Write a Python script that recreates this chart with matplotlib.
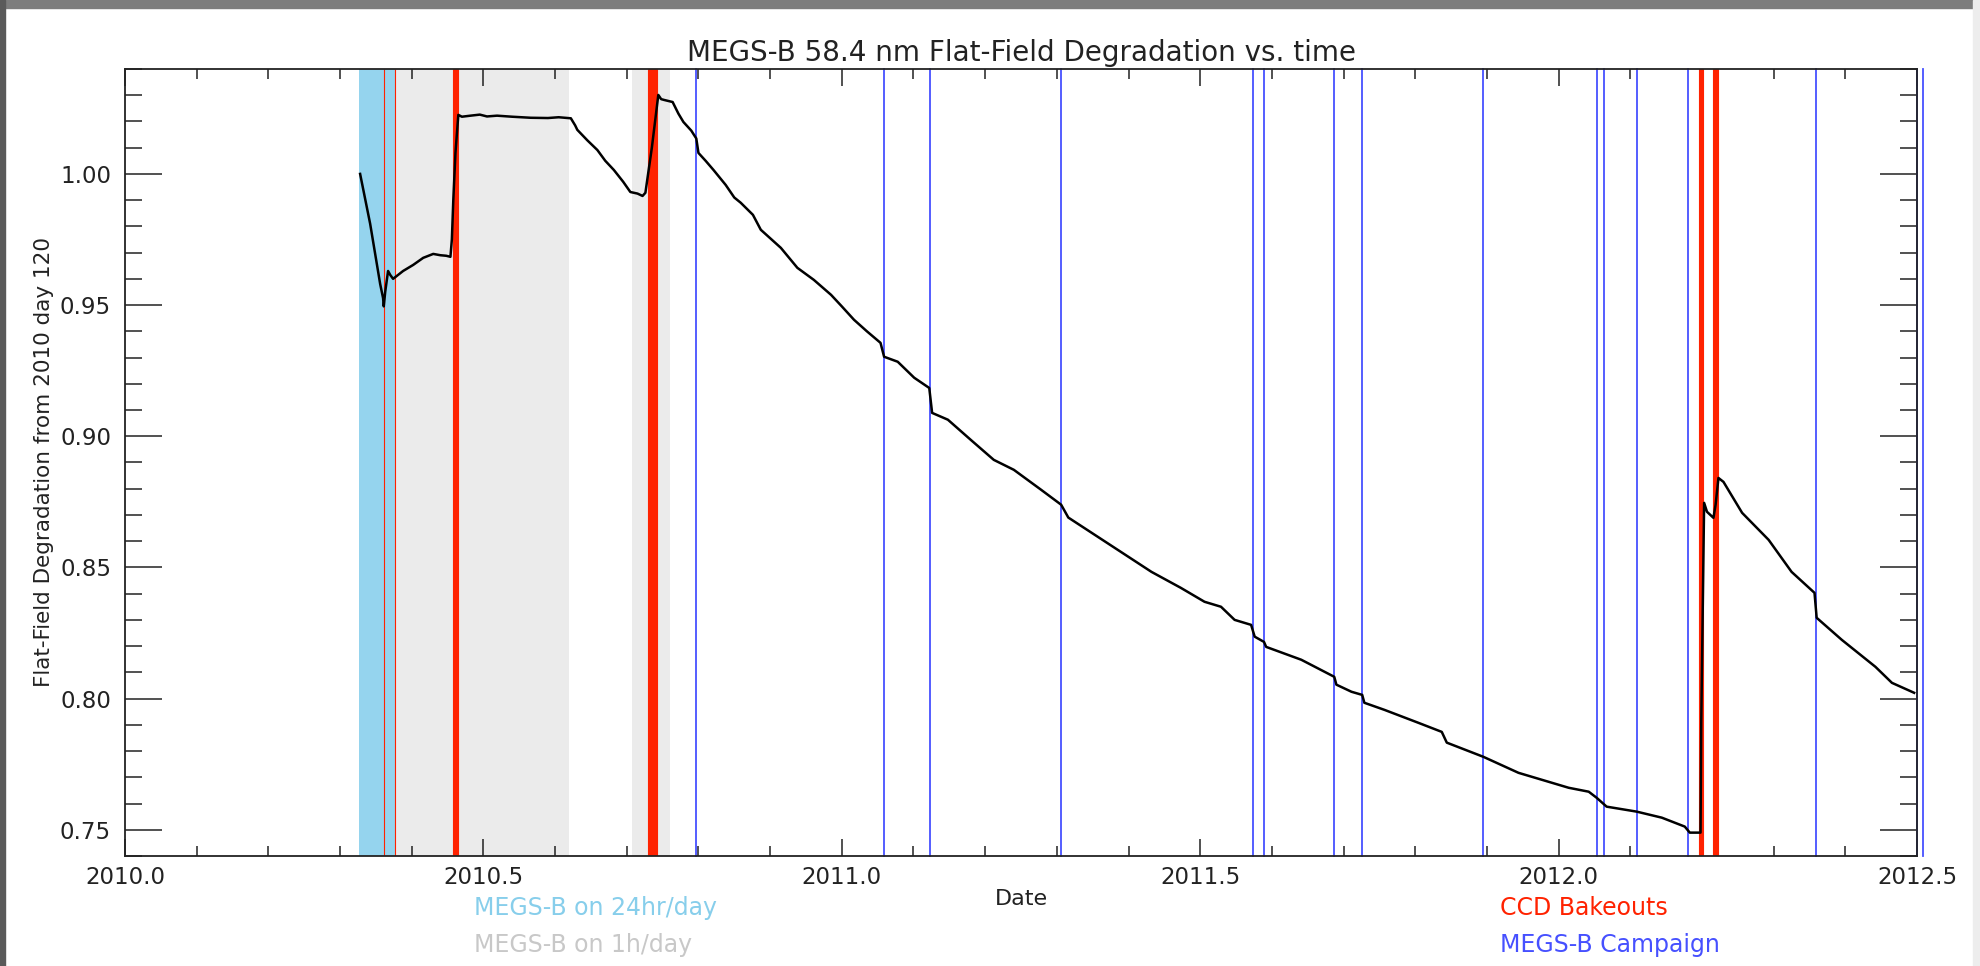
import matplotlib
matplotlib.use('Agg')
import matplotlib.pyplot as plt
from matplotlib.patches import Rectangle
from matplotlib.ticker import MultipleLocator, FormatStrFormatter

# flat-field degradation curve (decimal year, ratio to 2010 day 120)
dates = [2010.328, 2010.342, 2010.356, 2010.360, 2010.361, 2010.363, 2010.367,
         2010.370, 2010.374, 2010.388, 2010.402, 2010.416, 2010.430, 2010.440,
         2010.448, 2010.454, 2010.456, 2010.458, 2010.461, 2010.465, 2010.470,
         2010.482, 2010.495, 2010.505, 2010.519, 2010.540, 2010.566, 2010.590,
         2010.605, 2010.622, 2010.628, 2010.631, 2010.645, 2010.659, 2010.670,
         2010.682, 2010.695, 2010.705, 2010.715, 2010.722, 2010.726, 2010.735,
         2010.744, 2010.748, 2010.752, 2010.764, 2010.772, 2010.779, 2010.790,
         2010.797, 2010.800, 2010.810, 2010.821, 2010.838, 2010.850, 2010.859,
         2010.876, 2010.887, 2010.900, 2010.915, 2010.938, 2010.961, 2010.985,
         2011.000, 2011.017, 2011.035, 2011.054, 2011.059, 2011.078, 2011.101,
         2011.122, 2011.126, 2011.148, 2011.180, 2011.212, 2011.240, 2011.278,
         2011.306, 2011.316, 2011.432, 2011.473, 2011.506, 2011.529, 2011.548,
         2011.571, 2011.576, 2011.589, 2011.592, 2011.641, 2011.687, 2011.690,
         2011.711, 2011.726, 2011.729, 2011.757, 2011.804, 2011.837, 2011.844,
         2011.895, 2011.944, 2012.014, 2012.042, 2012.053, 2012.067, 2012.109,
         2012.144, 2012.176, 2012.183, 2012.198, 2012.199, 2012.201, 2012.203,
         2012.207, 2012.216, 2012.219, 2012.223, 2012.230, 2012.256, 2012.293,
         2012.325, 2012.357, 2012.360, 2012.395, 2012.442, 2012.465, 2012.496]
degradation = [1.0000, 0.9810, 0.9580, 0.9527, 0.9495, 0.9550, 0.9630,
               0.9615, 0.9600, 0.9630, 0.9653, 0.9680, 0.9695, 0.9690,
               0.9688, 0.9684, 0.9750, 0.9900, 1.0080, 1.0225, 1.0218,
               1.0222, 1.0226, 1.0219, 1.0222, 1.0218, 1.0214, 1.0213,
               1.0216, 1.0212, 1.0185, 1.0168, 1.0128, 1.0091, 1.0050,
               1.0015, 0.9970, 0.9931, 0.9925, 0.9916, 0.9928, 1.0100,
               1.0301, 1.0285, 1.0282, 1.0274, 1.0230, 1.0198, 1.0165,
               1.0135, 1.0080, 1.0050, 1.0015, 0.9958, 0.9910, 0.9890,
               0.9844, 0.9787, 0.9755, 0.9718, 0.9642, 0.9596, 0.9539,
               0.9495, 0.9444, 0.9400, 0.9356, 0.9303, 0.9284, 0.9223,
               0.9184, 0.9089, 0.9063, 0.8986, 0.8910, 0.8872, 0.8796,
               0.8739, 0.8690, 0.8483, 0.8422, 0.8369, 0.8350, 0.8300,
               0.8281, 0.8236, 0.8216, 0.8197, 0.8148, 0.8083, 0.8053,
               0.8026, 0.8014, 0.7984, 0.7957, 0.7908, 0.7873, 0.7832,
               0.7778, 0.7717, 0.7660, 0.7645, 0.7622, 0.7588, 0.7569,
               0.7546, 0.7512, 0.7489, 0.7489, 0.7908, 0.8327, 0.8746,
               0.8712, 0.8689, 0.8739, 0.8841, 0.8826, 0.8708, 0.8605,
               0.8483, 0.8403, 0.8308, 0.8224, 0.8121, 0.8060, 0.8022]

# MEGS-B operations modes
full_day_start = [2010.327]
full_day_end = [2010.377]
hour_day_start = [2010.377, 2010.707]
hour_day_end = [2010.620, 2010.760]

# CCD bakeouts
bakeout_start = [2010.362, 2010.377, 2010.457, 2010.729, 2012.196, 2012.215]
bakeout_end = [2010.362, 2010.377, 2010.464, 2010.742, 2012.202, 2012.222]

# MEGS-B campaigns
campaigns = [2010.797, 2011.059, 2011.123, 2011.306, 2011.574, 2011.589,
             2011.687, 2011.726, 2011.895, 2012.053, 2012.064, 2012.109,
             2012.180, 2012.359, 2012.500, 2012.508]

SKY = '#95d4ee'
GREY = '#ebebeb'
RED = '#ff2200'
BLUE = '#4650ff'
INK = '#222222'

fig = plt.figure(figsize=(19.81, 9.66), dpi=100)
ax = fig.add_axes([0.0631, 0.1139, 0.9046, 0.8147])

for a, b in zip(full_day_start, full_day_end):
    ax.axvspan(a, b, color=SKY, lw=0, zorder=1)
for a, b in zip(hour_day_start, hour_day_end):
    ax.axvspan(a, b, color=GREY, lw=0, zorder=1)
for a, b in zip(bakeout_start, bakeout_end):
    ax.axvspan(a, b, facecolor=RED, edgecolor=RED, lw=0.8, zorder=2)
for c in campaigns:
    ax.axvline(c, color=BLUE, lw=1.3, zorder=2, clip_on=False)

ax.plot(dates, degradation, '-', color='black', lw=1.8, zorder=3)

ax.set_xlim(2010.0, 2012.5)
ax.set_ylim(0.74, 1.04)
ax.xaxis.set_major_locator(MultipleLocator(0.5))
ax.xaxis.set_minor_locator(MultipleLocator(0.1))
ax.yaxis.set_major_locator(MultipleLocator(0.05))
ax.yaxis.set_minor_locator(MultipleLocator(0.01))
ax.xaxis.set_major_formatter(FormatStrFormatter('%.1f'))
ax.yaxis.set_major_formatter(FormatStrFormatter('%.2f'))

ax.tick_params(which='both', direction='in', top=True, right=True,
               colors=INK, labelsize=16.5, width=1.1)
ax.tick_params(axis='x', which='major', length=12.5, pad=7)
ax.tick_params(axis='x', which='minor', length=7)
ax.tick_params(axis='y', which='major', length=26.5, pad=10)
ax.tick_params(axis='y', which='minor', length=12.5)
for sp in ax.spines.values():
    sp.set_color(INK)
    sp.set_linewidth(1.3)
    sp.set_zorder(4)

ax.set_title('MEGS-B 58.4 nm Flat-Field Degradation vs. time',
             fontsize=20, color=INK, pad=6)
ax.set_xlabel('Date', fontsize=16, color=INK, labelpad=0)
ax.set_ylabel('Flat-Field Degradation from 2010 day 120', fontsize=15.5,
              color=INK, labelpad=4)

# key
fig.text(474 / 1981, 1 - 908 / 966, 'MEGS-B on 24hr/day', color='#87ceeb',
         fontsize=17, va='center')
fig.text(474 / 1981, 1 - 945 / 966, 'MEGS-B on 1h/day', color='#c8c8c8',
         fontsize=17, va='center')
fig.text(1500 / 1981, 1 - 908 / 966, 'CCD Bakeouts', color=RED,
         fontsize=17, va='center')
fig.text(1500 / 1981, 1 - 945 / 966, 'MEGS-B Campaign', color=BLUE,
         fontsize=17, va='center')

# screenshot shadow edges
fig.patches.append(Rectangle((0, 1 - 8 / 966), 1, 8 / 966, color='#7d7d7d',
                             transform=fig.transFigure, zorder=0))
fig.patches.append(Rectangle((0, 0), 5 / 1981, 1, color='#5a5a5a',
                             transform=fig.transFigure, zorder=0))
fig.patches.append(Rectangle((1 - 8 / 1981, 0), 8 / 1981, 1, color='#ededed',
                             transform=fig.transFigure, zorder=0))

fig.savefig('out.png', dpi=100)
